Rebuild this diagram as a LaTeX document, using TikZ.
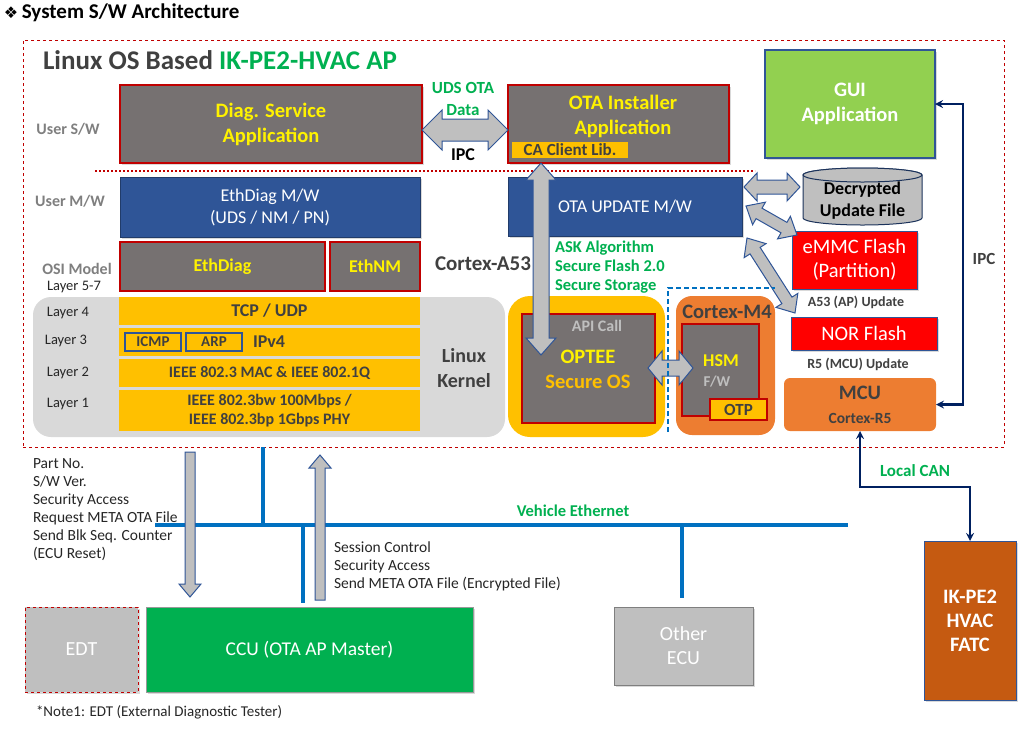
\documentclass[tikz,border=0pt]{standalone}
\usepackage{fontspec}
\setmainfont{Carlito}
\newfontfamily\symfont{DejaVu Sans}
\usetikzlibrary{calc,shadows}
\definecolor{boxgray}{HTML}{767171}
\definecolor{darkred}{HTML}{C00000}
\definecolor{boxblue}{HTML}{2F5597}
\definecolor{txtgreen}{HTML}{00B050}
\definecolor{amber}{HTML}{FFC000}
\definecolor{kerngray}{HTML}{D9D9D9}
\definecolor{m4orange}{HTML}{ED7D31}
\definecolor{fatcbrown}{HTML}{C55A11}
\definecolor{guigreen}{HTML}{92D050}
\definecolor{navy}{HTML}{002060}
\definecolor{ethblue}{HTML}{0070C0}
\definecolor{ltgray}{HTML}{BFBFBF}
\definecolor{darktxt}{HTML}{404040}
\definecolor{labgray}{HTML}{7F7F7F}
\definecolor{flashred}{HTML}{FF0000}
\newcommand\fsz[2]{\fontsize{#1}{#2}\selectfont}
\tikzset{
  shd/.style={drop shadow={opacity=.3,shadow xshift=2pt,shadow yshift=-2pt}},
  grybox/.style={draw=darkred,line width=1.5pt,fill=boxgray},
  blubox/.style={draw=boxblue!70!black,line width=.8pt,fill=boxblue,text=white,font=\fsz{18}{22},align=center,shd},
  ylwbox/.style={fill=amber,text=darktxt,font=\fsz{16}{19}\bfseries,align=center,minimum width=301},
  tagbox/.style={fill=amber,draw=boxblue,line width=1.2pt,text=darktxt,font=\fsz{15}{18}\bfseries,minimum width=56,minimum height=18},
  flashbox/.style={fill=flashred,draw=boxblue,line width=1pt,text=white,font=\fsz{20.5}{24},align=center,shd},
  sidelbl/.style={text=labgray,font=\fsz{16}{19}\bfseries},
  laylbl/.style={text=black!85,font=\fsz{14.5}{17}},
  updlbl/.style={text=darktxt,font=\fsz{14}{17}\bfseries},
  grnlbl/.style={text=txtgreen,font=\fsz{17}{22}\bfseries,align=center},
  msglbl/.style={anchor=north west,align=left,text=black!85,font=\fsz{15.5}{18}},
  fatarr/.style={draw=boxblue,fill=ltgray,line width=1pt},
  eth/.style={draw=ethblue,line width=4pt},
  navyln/.style={draw=navy,line width=2.5pt,stealth-stealth},
  region/.style={rounded corners=18pt}
}
% block arrows: from, to, shaft half width, head half width, head length
\newcommand\fatdbl[5]{%
  \path ($(#1)!#5!(#2)$) coordinate (fa1) ($(#2)!#5!(#1)$) coordinate (fa2);
  \draw[fatarr] (#1) -- ($(fa1)!#4!90:(#2)$) -- ($(fa1)!#3!90:(#2)$) -- ($(fa2)!#3!-90:(#1)$) -- ($(fa2)!#4!-90:(#1)$) -- (#2) -- ($(fa2)!#4!90:(#1)$) -- ($(fa2)!#3!90:(#1)$) -- ($(fa1)!#3!-90:(#2)$) -- ($(fa1)!#4!-90:(#2)$) -- cycle;}
\newcommand\fatone[5]{%
  \path ($(#2)!#5!(#1)$) coordinate (fa2);
  \draw[fatarr] ($(#1)!#3!90:(#2)$) -- ($(fa2)!#3!-90:(#1)$) -- ($(fa2)!#4!-90:(#1)$) -- (#2) -- ($(fa2)!#4!90:(#1)$) -- ($(fa2)!#3!90:(#1)$) -- ($(#1)!#3!-90:(#2)$) -- cycle;}
\begin{document}
\begin{tikzpicture}[x=1pt,y=-1pt,every node/.style={inner sep=0pt,outer sep=0pt}]
\useasboundingbox (0,0) rectangle (1026,729);

\node[anchor=west,font=\fsz{21}{24}\bfseries] (title) at (4,13) {{\symfont\fsz{16}{18}❖}\,System S/W Architecture};

\node[draw=darkred,dashed,line width=1pt,minimum width=981,minimum height=407] (apbox) at (513.5,243.5) {};
\node[anchor=west,font=\fsz{27}{30}\bfseries,text=darktxt] (aptitle) at (43,60) {Linux OS Based \textcolor{txtgreen}{IK-PE2-HVAC AP}};

\node[sidelbl] (usw) at (68,129) {User S/W};
\node[sidelbl] (umw) at (70,201) {User M/W};
\node[sidelbl] (osi) at (77,269) {OSI Model};
\node[laylbl] (l57) at (74,287) {Layer 5-7};

\draw[darkred,dotted,line width=2pt] (95,171) -- (755,171);

% user s/w
\node[grybox,shd,minimum width=302,minimum height=78,text=yellow,font=\fsz{20.5}{25}\bfseries,align=center] (diag) at (271,124) {Diag. Service\\Application};
\node[grybox,shd,minimum width=221,minimum height=78] (otainst) at (618.5,124) {};
\node[text=yellow,font=\fsz{20.5}{25}\bfseries,align=center] (otatxt) at (623,116) {OTA Installer\\Application};
\node[fill=amber,minimum width=116,minimum height=16,text=darktxt,font=\fsz{17}{20}\bfseries] (calib) at (570,150) {CA Client Lib.};

% user m/w
\node[blubox,minimum width=300,minimum height=60] (ethmw) at (270,207) {EthDiag M/W\\(UDS / NM / PN)};
\node[grybox,minimum width=205,minimum height=49,text=yellow,font=\fsz{18}{22}\bfseries] (ethdiag) at (222.5,266.5) {EthDiag};
\node[grybox,minimum width=90,minimum height=49,text=yellow,font=\fsz{18}{22}\bfseries] (ethnm) at (375,266.5) {EthNM};
\node[font=\fsz{21}{25}\bfseries,text=darktxt] (a53) at (483,264) {Cortex-A53};
\node[blubox,minimum width=234,minimum height=59] (otamw) at (625,206.5) {OTA UPDATE M/W};
\node[grnlbl,anchor=north west,align=left,font=\fsz{16.5}{19}\bfseries] (ask) at (555,241) {ASK Algorithm\\Secure Flash 2.0\\Secure Storage};

% linux kernel
\node[region,fill=kerngray,minimum width=472,minimum height=140] (kernel) at (269,367) {};
\node[font=\fsz{20}{25}\bfseries,text=darktxt,align=center] (kerntxt) at (464,368) {Linux\\Kernel};
\node[laylbl] (lay4) at (68,313) {Layer 4};
\node[laylbl] (lay3) at (66,341) {Layer 3};
\node[laylbl] (lay2) at (68,373) {Layer 2};
\node[laylbl] (lay1) at (68,404) {Layer 1};
\node[ylwbox,minimum height=28,font=\fsz{18}{21}\bfseries] (tcp) at (269.5,311) {TCP / UDP};
\node[ylwbox,minimum height=28] (ipv4) at (269.5,342) {};
\node[tagbox] (icmp) at (153,342) {ICMP};
\node[tagbox] (arp) at (214,342) {ARP};
\node[anchor=west,text=darktxt,font=\fsz{18}{21}\bfseries] (ipv4txt) at (253,342) {IPv4};
\node[ylwbox,minimum height=28] (mac) at (269.5,373) {IEEE 802.3 MAC \& IEEE 802.1Q};
\node[ylwbox,minimum height=41] (phy) at (269.5,410.5) {IEEE 802.3bw 100Mbps /\\IEEE 802.3bp 1Gbps PHY};

% secure world
\node[region,rounded corners=22pt,fill=amber,minimum width=157,minimum height=141] (tee) at (586.5,366.5) {};
\node[grybox,minimum width=133,minimum height=109] (optee) at (588.5,368.5) {};
\node[text=ltgray,font=\fsz{16}{19}\bfseries] (api) at (597,326) {API Call};
\node[font=\fsz{20.5}{25}\bfseries,align=center,text=yellow] (opteetxt) at (588,369) {OPTEE\\\textcolor{amber}{Secure OS}};
\node[region,rounded corners=16pt,fill=m4orange,minimum width=99,minimum height=139] (m4) at (725.5,365.5) {};
\node[font=\fsz{20.5}{24}\bfseries,text=darktxt] (m4txt) at (727,312) {Cortex-M4};
\node[grybox,minimum width=77,minimum height=92] (hsm) at (720.5,370) {};
\node[text=yellow,font=\fsz{18}{21}\bfseries] (hsmtxt) at (721,361) {HSM};
\node[text=ltgray,font=\fsz{15}{18}\bfseries] (fwtxt) at (717,382) {F/W};
\node[fill=amber,draw=darkred,line width=1.2pt,minimum width=57,minimum height=21,text=darktxt,font=\fsz{17}{20}\bfseries] (otp) at (738.5,409.5) {OTP};

% right side
\node[draw=boxblue,line width=1.2pt,fill=guigreen,shd,minimum width=170,minimum height=108,text=white,font=\fsz{20.5}{25}\bfseries,align=center] (gui) at (850,104) {GUI\\Application};
\draw[fill=ltgray,draw=boxblue!60!black,line width=1pt] (803,175) -- (803,218) arc[start angle=180,end angle=360,x radius=59.5pt,y radius=7pt] -- (922,175) arc[start angle=0,end angle=180,x radius=59.5pt,y radius=7pt] -- cycle;
\draw[fill=ltgray,draw=boxblue!60!black,line width=1pt] (862.5,175) ellipse [x radius=59.5pt,y radius=7pt];
\node[font=\fsz{18}{22}\bfseries,align=center] (decf) at (862.5,201) {Decrypted\\Update File};
\node[flashbox,minimum width=125,minimum height=58] (emmc) at (854.5,260) {eMMC Flash\\(Partition)};
\node[updlbl] (a53upd) at (856,302) {A53 (AP) Update};
\node[flashbox,minimum width=146,minimum height=33] (nor) at (864,333.5) {NOR Flash};
\node[updlbl] (r5upd) at (858,364) {R5 (MCU) Update};
\node[fill=m4orange,rounded corners=6pt,minimum width=152,minimum height=53] (mcu) at (860,404.5) {};
\node[text=darktxt,font=\fsz{20.5}{24}\bfseries] (mcutxt) at (860,393) {MCU};
\node[text=darktxt,font=\fsz{15.5}{18}\bfseries] (r5txt) at (860,418) {Cortex-R5};
\draw[navyln] (mcu.east) -- ++(27,0) |- (gui.east);
\node[updlbl,font=\fsz{17}{20}\bfseries] (ipc2) at (984,259) {IPC};

% block arrows
\coordinate (ipcL) at (422,130); \coordinate (ipcR) at (508,130);
\fatdbl{ipcL}{ipcR}{11pt}{20pt}{20pt}
\node[grnlbl] (udsota) at (463,99) {UDS OTA\\Data};
\node[font=\fsz{18}{21}\bfseries] (ipc1) at (463,155) {IPC};
\coordinate (ota1) at (541,163); \coordinate (ota2) at (541,355);
\fatdbl{ota1}{ota2}{8pt}{15pt}{17pt}
\coordinate (cyl1) at (744,187); \coordinate (cyl2) at (800,187);
\fatdbl{cyl1}{cyl2}{7pt}{14pt}{13pt}
\coordinate (em1) at (746,206); \coordinate (em2) at (797,235);
\fatdbl{em1}{em2}{6pt}{13pt}{15pt}
\coordinate (nr1) at (747,238); \coordinate (nr2) at (795,313);
\fatdbl{nr1}{nr2}{6pt}{13pt}{15pt}
\coordinate (tee1) at (648,368); \coordinate (tee2) at (693,368);
\fatdbl{tee1}{tee2}{8pt}{17pt}{14pt}
\draw[ethblue,dash pattern=on 5pt off 3pt,line width=1.2pt] (668,432) -- (668,288) -- (775,288);

% vehicle side
\node[fill=ltgray,draw=darkred,dashed,line width=1pt,shd,minimum width=113,minimum height=85,text=white,font=\fsz{20}{24}] (edt) at (81.5,649.5) {EDT};
\node[fill=txtgreen,draw=black!40,shd,minimum width=327,minimum height=85,text=white,font=\fsz{19.5}{24}] (ccu) at (309.5,649.5) {CCU (OTA AP Master)};
\node[fill=ltgray,draw=labgray,line width=1pt,shd,minimum width=139,minimum height=78,text=white,font=\fsz{20}{24},align=center] (other) at (683.5,646) {Other\\ECU};
\node[fill=fatcbrown,draw=boxblue,line width=1pt,shd,minimum width=92,minimum height=159,text=white,font=\fsz{20.5}{24}\bfseries,align=center] (fatc) at (970,620.5) {IK-PE2\\HVAC\\FATC};
\draw[navyln] (mcu.south) -- ++(0,56) -| (fatc.north);
\node[grnlbl] (lcan) at (915,471) {Local CAN};

\coordinate (busL) at (155,525); \coordinate (busR) at (848,525);
\draw[eth] (busL) -- (busR);
\coordinate (apdrop) at (263,525);
\draw[eth] (apbox.south -| apdrop) -- (apdrop);
\coordinate (ccudrop) at (303,525);
\draw[eth,shorten >=4pt] (ccudrop) -- (ccu.north -| ccudrop);
\coordinate (ecudrop) at (682,525);
\draw[eth,shorten >=9pt] (ecudrop) -- (other.north -| ecudrop);
\node[grnlbl,font=\fsz{16.5}{20}\bfseries] (veth) at (573,511) {Vehicle Ethernet};

\coordinate (dn1) at (190,452); \coordinate (dn2) at (190,597);
\fatone{dn1}{dn2}{5pt}{11pt}{13pt}
\coordinate (up1) at (320,600); \coordinate (up2) at (320,455);
\fatone{up1}{up2}{5pt}{11pt}{13pt}
\node[msglbl] (reqtxt) at (33,459) {Part No.\\S/W Ver.\\Security Access\\Request META OTA File\\Send Blk Seq. Counter\\(ECU Reset)};
\node[msglbl] (sesstxt) at (334,542) {Session Control\\Security Access\\Send META OTA File (Encrypted File)};
\node[anchor=west,text=black!85,font=\fsz{15}{18}] (note) at (36,712) {*Note1: EDT (External Diagnostic Tester)};
%\node (dbg) at (513,365) {};
\end{tikzpicture}
\end{document}
